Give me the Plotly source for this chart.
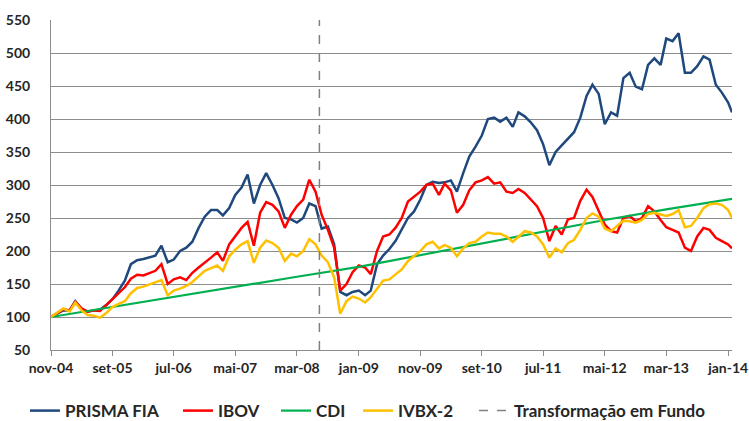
import pandas as pd
import plotly.graph_objects as go

# ---- data (monthly readings, start of month, Nov-2004 .. Jan-2014, plus last day) ----
month_dates = list(pd.date_range("2004-11-01", "2014-01-01", freq="MS").strftime("%Y-%m-%d")) + ["2014-01-20"]

prisma = [
    100, 105, 110, 110, 124, 112, 108, 110, 111, 118,
    127, 140, 155, 180, 186, 188, 190, 193, 208, 183,
    187, 200, 205, 214, 235, 252, 262, 262, 254, 265,
    285, 296, 316, 272, 300, 318, 300, 280, 250, 248,
    243, 250, 272, 268, 234, 237, 210, 138, 133, 138,
    140, 133, 140, 180, 193, 203, 215, 232, 250, 260,
    278, 300, 305, 303, 304, 307, 290, 318, 343, 358,
    375, 400, 402, 396, 402, 388, 410, 404, 395, 383,
    362, 330, 350, 360, 370, 380, 402, 435, 452, 438,
    392, 410, 405, 462, 470, 449, 445, 482, 492, 482,
    522, 518, 530, 470, 470, 480, 495, 490, 452, 440,
    425, 410,
]

ibov = [
    100, 106, 112, 110, 123, 113, 108, 110, 109, 118,
    127, 135, 145, 158, 164, 163, 166, 170, 180, 150,
    157, 160, 156, 167, 175, 183, 190, 198, 185, 210,
    222, 235, 244, 208, 258, 274, 270, 260, 235, 255,
    268, 278, 308, 290, 255, 232, 205, 140, 150, 168,
    178, 175, 165, 200, 222, 225, 235, 250, 275, 282,
    290, 300, 302, 285, 302, 292, 258, 270, 292, 304,
    307, 312, 302, 304, 290, 288, 294, 288, 278, 268,
    250, 215, 238, 225, 248, 250, 276, 293, 282, 262,
    240, 230, 228, 250, 253, 245, 250, 268, 260, 247,
    236, 232, 228, 205, 200, 222, 235, 232, 220, 215,
    210, 204,
]

ivbx2 = [
    100, 107, 113, 108, 122, 110, 103, 102, 99, 106,
    115, 120, 124, 136, 144, 146, 149, 152, 156, 133,
    140, 143, 147, 153, 162, 170, 174, 178, 170, 192,
    202, 210, 215, 182, 205, 216, 212, 205, 185, 196,
    192, 200, 218, 210, 193, 183, 160, 105, 124, 131,
    128, 122, 130, 143, 155, 157, 165, 172, 185, 192,
    200, 210, 214, 204, 209, 205, 192, 204, 212, 214,
    222, 228, 226, 226, 222, 214, 222, 230, 228, 222,
    210, 190, 204, 198, 212, 217, 232, 250, 257, 252,
    234, 230, 238, 246, 245, 243, 247, 256, 258, 255,
    253, 256, 262, 236, 238, 250, 265, 271, 272, 270,
    262, 250,
]

cdi_dates = ["2004-11-01", "2005-09-01", "2006-07-01", "2007-05-01", "2008-03-01",
             "2009-01-01", "2009-11-01", "2010-09-01", "2011-07-01", "2012-05-01",
             "2013-03-01", "2014-01-01", "2014-01-20"]
cdi = [100, 115.5, 131, 146, 161, 176, 194, 212, 229, 247, 263, 277, 279]

transform_date = "2008-06-20"
transform_y = [50, 550]

tick_dates = ["2004-11-01", "2005-09-01", "2006-07-01", "2007-05-01", "2008-03-01",
              "2009-01-01", "2009-11-01", "2010-09-01", "2011-07-01", "2012-05-01",
              "2013-03-01", "2014-01-01"]
tick_labels = ["nov-04", "set-05", "jul-06", "mai-07", "mar-08", "jan-09",
               "nov-09", "set-10", "jul-11", "mai-12", "mar-13", "jan-14"]

# ---- figure ----
fig = go.Figure()
fig.add_trace(go.Scatter(x=month_dates, y=prisma, name="PRISMA FIA", mode="lines",
                         line=dict(color="#1F497D", width=2.5), legend="legend"))
fig.add_trace(go.Scatter(x=month_dates, y=ibov, name="IBOV", mode="lines",
                         line=dict(color="#FF0000", width=2.5), legend="legend2"))
fig.add_trace(go.Scatter(x=cdi_dates, y=cdi, name="CDI", mode="lines",
                         line=dict(color="#00B050", width=2.2), legend="legend3"))
fig.add_trace(go.Scatter(x=month_dates, y=ivbx2, name="IVBX-2", mode="lines",
                         line=dict(color="#FFC000", width=2.5), legend="legend4"))
fig.add_trace(go.Scatter(x=[transform_date, transform_date], y=transform_y,
                         name="Transformação em Fundo", mode="lines",
                         line=dict(color="#808080", width=1.5, dash="dash"), legend="legend5"))

legend_font = dict(size=17, weight="bold", color="#262626")
def legend_at(xpos):
    return dict(orientation="h", x=xpos, xanchor="left", y=-0.185, yanchor="middle",
                font=legend_font, bgcolor="rgba(0,0,0,0)", borderwidth=0)

fig.update_layout(
    width=749, height=421,
    margin=dict(l=51, r=17, t=20, b=71, autoexpand=False),
    paper_bgcolor="white", plot_bgcolor="white",
    font=dict(family="Lato, 'Open Sans', sans-serif", size=14, color="#262626", weight="bold"),
    showlegend=True,
    legend=legend_at(-0.0382),
    legend2=legend_at(0.1865),
    legend3=legend_at(0.3304),
    legend4=legend_at(0.4508),
    legend5=legend_at(0.6211),
)
fig.update_xaxes(
    type="date", range=["2004-11-01", "2014-01-20"],
    tickvals=tick_dates, ticktext=tick_labels,
    showgrid=False, showline=True, linecolor="#8C8C8C", linewidth=1,
    ticks="outside", ticklen=5, tickcolor="#8C8C8C",
    zeroline=False, automargin=False,
)
fig.update_yaxes(
    range=[50, 550], dtick=50, tick0=50,
    showgrid=True, gridcolor="#8C8C8C", gridwidth=1,
    showline=True, linecolor="#8C8C8C", linewidth=1,
    ticks="", ticklabelstandoff=17, zeroline=False, automargin=False,
)

fig.write_html("out.html", config={"displayModeBar": False},
               post_script="document.body.style.margin='0';")
